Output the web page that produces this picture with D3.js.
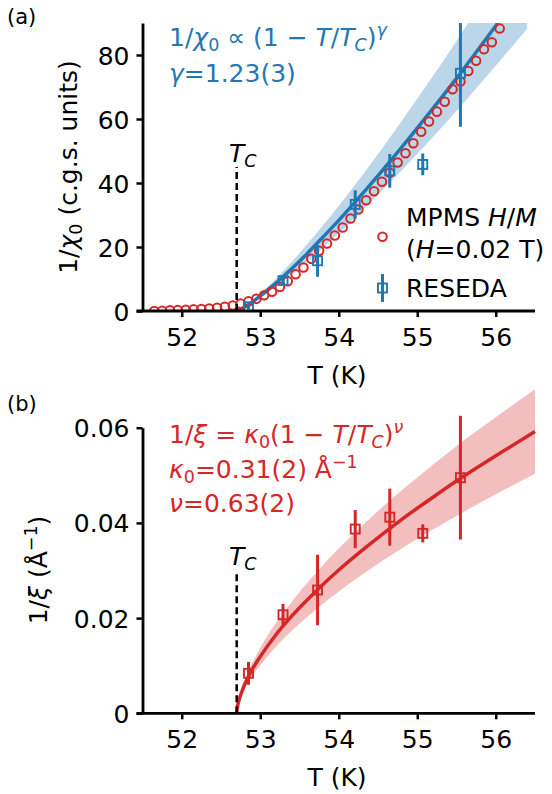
<!DOCTYPE html>
<html>
<head>
<meta charset="utf-8">
<script src="https://cdnjs.cloudflare.com/ajax/libs/d3/7.8.5/d3.min.js"></script>
<style>
  body { margin: 0; background: #fff; }
  svg text { font-family: 'DejaVu Sans', sans-serif; }
</style>
</head>
<body>
<div id="chart"></div>
<script>
// ---- data ----
const xTicks = [52, 53, 54, 55, 56];
const chiTicks = [0, 20, 40, 60, 80];
const xiTicks = [0, 0.02, 0.04, 0.06];
const Tc = 52.7;

// MPMS H/M (circles)
const mpmsT = [51.65, 51.75, 51.85, 51.95, 52.05, 52.15, 52.25, 52.35, 52.45, 52.55,
  52.65, 52.75, 52.85, 52.95, 53.05, 53.15, 53.25, 53.35, 53.45, 53.55,
  53.65, 53.75, 53.85, 53.95, 54.05, 54.15, 54.25, 54.35, 54.45, 54.55,
  54.65, 54.75, 54.85, 54.95, 55.05, 55.15, 55.25, 55.35, 55.45, 55.55,
  55.65, 55.75, 55.85, 55.95, 56.05];
const mpmsV = [0.0, 0.1, 0.2, 0.3, 0.4, 0.5, 0.6, 0.8, 1.0, 1.3,
  1.7, 2.3, 3.0, 3.8, 4.9, 6.0, 7.5, 9.3, 11.5, 13.6,
  16.3, 18.8, 21.1, 23.6, 26.1, 28.9, 31.7, 34.6, 37.4, 40.4,
  43.2, 46.4, 49.3, 52.4, 56.0, 59.2, 62.3, 65.4, 69.3, 71.7,
  75.0, 78.2, 81.8, 84.0, 88.3];

// RESEDA points
const resedaT = [52.85, 53.29, 53.73, 54.21, 54.65, 55.07, 55.55];
const chiInv = [1.3, 9.5, 15.7, 33.3, 43.8, 45.8, 74.3];
const chiErr = [0.8, 1.5, 5.0, 4.4, 5.3, 3.4, 16.7];
const xiInv = [0.0084, 0.0207, 0.0259, 0.0387, 0.0412, 0.0378, 0.0495];
const xiErr = [0.0024, 0.0023, 0.0074, 0.0040, 0.0060, 0.0019, 0.0130];

// fit curve and band, top panel
const fitAT = [52.7, 52.8, 52.9, 53.0, 53.2, 53.4, 53.6, 53.8, 54.0, 54.3, 54.6, 54.9, 55.2, 55.5, 55.8, 56.1, 56.4];
const fitA = [0, 1.2, 2.8, 4.7, 8.7, 13.2, 18.0, 23.1, 28.3, 36.6, 45.2, 54.1, 63.3, 72.7, 82.5, 92.4, 102.5];
const fitAHi = [0, 1.4, 3.3, 5.4, 10.1, 15.3, 20.9, 26.8, 32.8, 42.4, 52.4, 62.8, 73.4, 84.4, 95.7, 107, 119];
const fitALo = [0, 1.0, 2.4, 4.0, 7.5, 11.4, 15.5, 19.8, 24.3, 31.5, 38.8, 46.5, 54.4, 62.5, 70.9, 79.5, 88.2];

// fit curve and band, bottom panel
const fitBT = [52.7, 52.71, 52.73, 52.76, 52.8, 52.9, 53.0, 53.2, 53.4, 53.7, 54.0, 54.4, 54.8, 55.2, 55.6, 56.0, 56.5];
const fitB = [0, 0.0014, 0.0028, 0.0043, 0.0060, 0.0093, 0.0119, 0.0165, 0.0204, 0.0255, 0.0301, 0.0356, 0.0407, 0.0454, 0.0499, 0.0541, 0.0592];
const fitBHi = [0, 0.0016, 0.0032, 0.0050, 0.0069, 0.0106, 0.0137, 0.0190, 0.0234, 0.0293, 0.0346, 0.0410, 0.0468, 0.0522, 0.0574, 0.0622, 0.0681];
const fitBLo = [0, 0.0012, 0.0024, 0.0037, 0.0051, 0.0079, 0.0101, 0.0140, 0.0173, 0.0217, 0.0256, 0.0303, 0.0346, 0.0386, 0.0424, 0.0460, 0.0503];

const blue = '#1f77b4', red = '#d62728';
const fs = 25;

const svg = d3.select('#chart').append('svg')
  .attr('width', 552).attr('height', 794);

const x = d3.scaleLinear().domain([51.5, 56.5]).range([142.5, 535]);
const yA = d3.scaleLinear().domain([0, 90]).range([311, 23]);
const yB = d3.scaleLinear().domain([0, 0.06]).range([713.3, 427.7]);

// text with italic / sub / sup pieces
function rich(g, px, py, parts, size, color) {
  const t = g.append('text').attr('x', px).attr('y', py)
    .style('font-size', size + 'px').attr('fill', color || '#000');
  let shift = 0;
  parts.forEach(([s, m]) => {
    m = m || '';
    const off = m.includes('_') ? size * 0.18 : m.includes('^') ? -size * 0.4 : 0;
    const ts = t.append('tspan').attr('dy', off - shift).text(s);
    if (off) ts.style('font-size', (size * 0.7) + 'px');
    if (m.includes('i')) ts.style('font-style', 'italic');
    shift = off;
  });
  return t;
}

function axes(y, yTicks, fmt) {
  const [y0] = y.range();
  const gx = svg.append('g').attr('transform', `translate(0,${y0})`)
    .call(d3.axisBottom(x).tickValues(xTicks).tickFormat(d3.format('d'))
      .tickSize(6).tickPadding(11).tickSizeOuter(0));
  gx.select('.domain').attr('d', `M${x.range()[0] - 6},0H${x.range()[1]}`);
  const gy = svg.append('g').attr('transform', `translate(${x.range()[0]},0)`)
    .call(d3.axisLeft(y).tickValues(yTicks).tickFormat(fmt).tickSize(6).tickPadding(7).tickSizeOuter(0));
  [gx, gy].forEach(g => {
    g.selectAll('.domain').attr('stroke', '#000').attr('stroke-width', 2.8);
    g.selectAll('.tick line').attr('stroke', '#000').attr('stroke-width', 2.5);
    g.selectAll('.tick text').style('font-size', fs + 'px')
      .style('font-family', "'DejaVu Sans', sans-serif").attr('fill', '#000');
  });
  gy.selectAll('.tick text').attr('dy', '0.36em');
}

function errPoints(g, y, vals, errs, color) {
  const pts = g.append('g');
  resedaT.forEach((t, i) => {
    pts.append('line')
      .attr('x1', x(t)).attr('x2', x(t))
      .attr('y1', y(vals[i] - errs[i])).attr('y2', y(vals[i] + errs[i]))
      .attr('stroke', color).attr('stroke-width', 3);
    pts.append('rect')
      .attr('x', x(t) - 4.5).attr('y', y(vals[i]) - 4.5)
      .attr('width', 9).attr('height', 9)
      .attr('fill', 'none').attr('stroke', color).attr('stroke-width', 1.9);
  });
}

// ---------- panel (a) ----------
svg.append('defs').append('clipPath').attr('id', 'clipA')
  .append('rect').attr('x', x.range()[0]).attr('y', yA.range()[1])
  .attr('width', x.range()[1] - x.range()[0]).attr('height', yA.range()[0] - yA.range()[1]);

const gA = svg.append('g').attr('clip-path', 'url(#clipA)');
gA.append('path')
  .datum(fitAT.map((t, i) => [t, fitALo[i], fitAHi[i]]))
  .attr('fill', blue).attr('fill-opacity', 0.3)
  .attr('d', d3.area().x(d => x(d[0])).y0(d => yA(d[1])).y1(d => yA(d[2])).curve(d3.curveMonotoneX));
gA.append('path')
  .datum(fitAT.map((t, i) => [t, fitA[i]]))
  .attr('fill', 'none').attr('stroke', blue).attr('stroke-width', 3.5)
  .attr('d', d3.line().x(d => x(d[0])).y(d => yA(d[1])).curve(d3.curveMonotoneX));
gA.selectAll('circle.mpms')
  .data(mpmsT.map((t, i) => [t, mpmsV[i]]))
  .enter().append('circle')
  .attr('class', 'mpms')
  .attr('cx', d => x(d[0])).attr('cy', d => yA(d[1])).attr('r', 4.3)
  .attr('fill', 'none').attr('stroke', red).attr('stroke-width', 2);
errPoints(gA, yA, chiInv, chiErr, blue);

svg.append('line')
  .attr('x1', x(Tc)).attr('x2', x(Tc)).attr('y1', yA(0)).attr('y2', yA(45))
  .attr('stroke', '#000').attr('stroke-width', 2.5).attr('stroke-dasharray', '7,4');
rich(svg, 229, 162, [['T', 'i'], ['C', 'i_']], fs);

axes(yA, chiTicks, d3.format('d'));

rich(svg, 169, 46, [['1/', ''], ['χ', 'i'], ['0', '_'], [' ∝ (1 − ', ''], ['T', 'i'], ['/', ''], ['T', 'i'], ['C', 'i_'], [')', ''], ['γ', 'i^']], fs, blue);
rich(svg, 169, 82, [['γ', 'i'], ['=1.23(3)', '']], fs, blue);

// legend
svg.append('circle').attr('cx', 382.5).attr('cy', 236.7).attr('r', 4.3)
  .attr('fill', 'none').attr('stroke', red).attr('stroke-width', 2);
rich(svg, 406, 226, [['MPMS ', ''], ['H', 'i'], ['/', ''], ['M', 'i']], fs);
rich(svg, 406, 258, [['(', ''], ['H', 'i'], ['=0.02 T)', '']], fs);
svg.append('line').attr('x1', 382.5).attr('x2', 382.5).attr('y1', 274).attr('y2', 302)
  .attr('stroke', blue).attr('stroke-width', 3);
svg.append('rect').attr('x', 378).attr('y', 283.5).attr('width', 9).attr('height', 9)
  .attr('fill', 'none').attr('stroke', blue).attr('stroke-width', 1.9);
rich(svg, 406, 297, [['RESEDA', '']], fs);

svg.append('text').attr('x', 337).attr('y', 384).attr('text-anchor', 'middle')
  .style('font-size', fs + 'px').text('T (K)');
rich(svg, 0, 0, [['1/', ''], ['χ', 'i'], ['0', '_'], [' (c.g.s. units)', '']], fs)
  .attr('transform', 'translate(77,167) rotate(-90)').attr('text-anchor', 'middle');
svg.append('text').attr('x', 7).attr('y', 24).style('font-size', '21px').text('(a)');

// ---------- panel (b) ----------
const gB = svg.append('g');
gB.append('path')
  .datum(fitBT.map((t, i) => [t, fitBLo[i], fitBHi[i]]))
  .attr('fill', red).attr('fill-opacity', 0.3)
  .attr('d', d3.area().x(d => x(d[0])).y0(d => yB(d[1])).y1(d => yB(d[2])).curve(d3.curveMonotoneX));
gB.append('path')
  .datum(fitBT.map((t, i) => [t, fitB[i]]))
  .attr('fill', 'none').attr('stroke', red).attr('stroke-width', 3.5)
  .attr('d', d3.line().x(d => x(d[0])).y(d => yB(d[1])).curve(d3.curveMonotoneX));
errPoints(gB, yB, xiInv, xiErr, red);

svg.append('line')
  .attr('x1', x(Tc)).attr('x2', x(Tc)).attr('y1', yB(0)).attr('y2', yB(0.03))
  .attr('stroke', '#000').attr('stroke-width', 2.5).attr('stroke-dasharray', '7,4');
rich(svg, 229, 565, [['T', 'i'], ['C', 'i_']], fs);

axes(yB, xiTicks, d => d === 0 ? '0' : d3.format('.2f')(d));

rich(svg, 169, 443, [['1/', ''], ['ξ', 'i'], [' = ', ''], ['κ', 'i'], ['0', '_'], ['(1 − ', ''], ['T', 'i'], ['/', ''], ['T', 'i'], ['C', 'i_'], [')', ''], ['ν', 'i^']], fs, red);
rich(svg, 169, 478, [['κ', 'i'], ['0', '_'], ['=0.31(2) Å', ''], ['−1', '^']], fs, red);
rich(svg, 169, 512, [['ν', 'i'], ['=0.63(2)', '']], fs, red);

svg.append('text').attr('x', 337).attr('y', 786).attr('text-anchor', 'middle')
  .style('font-size', fs + 'px').text('T (K)');
rich(svg, 0, 0, [['1/', ''], ['ξ', 'i'], [' (Å', ''], ['−1', '^'], [')', '']], fs)
  .attr('transform', 'translate(47,570) rotate(-90)').attr('text-anchor', 'middle');
svg.append('text').attr('x', 7).attr('y', 411).style('font-size', '21px').text('(b)');
</script>
</body>
</html>
